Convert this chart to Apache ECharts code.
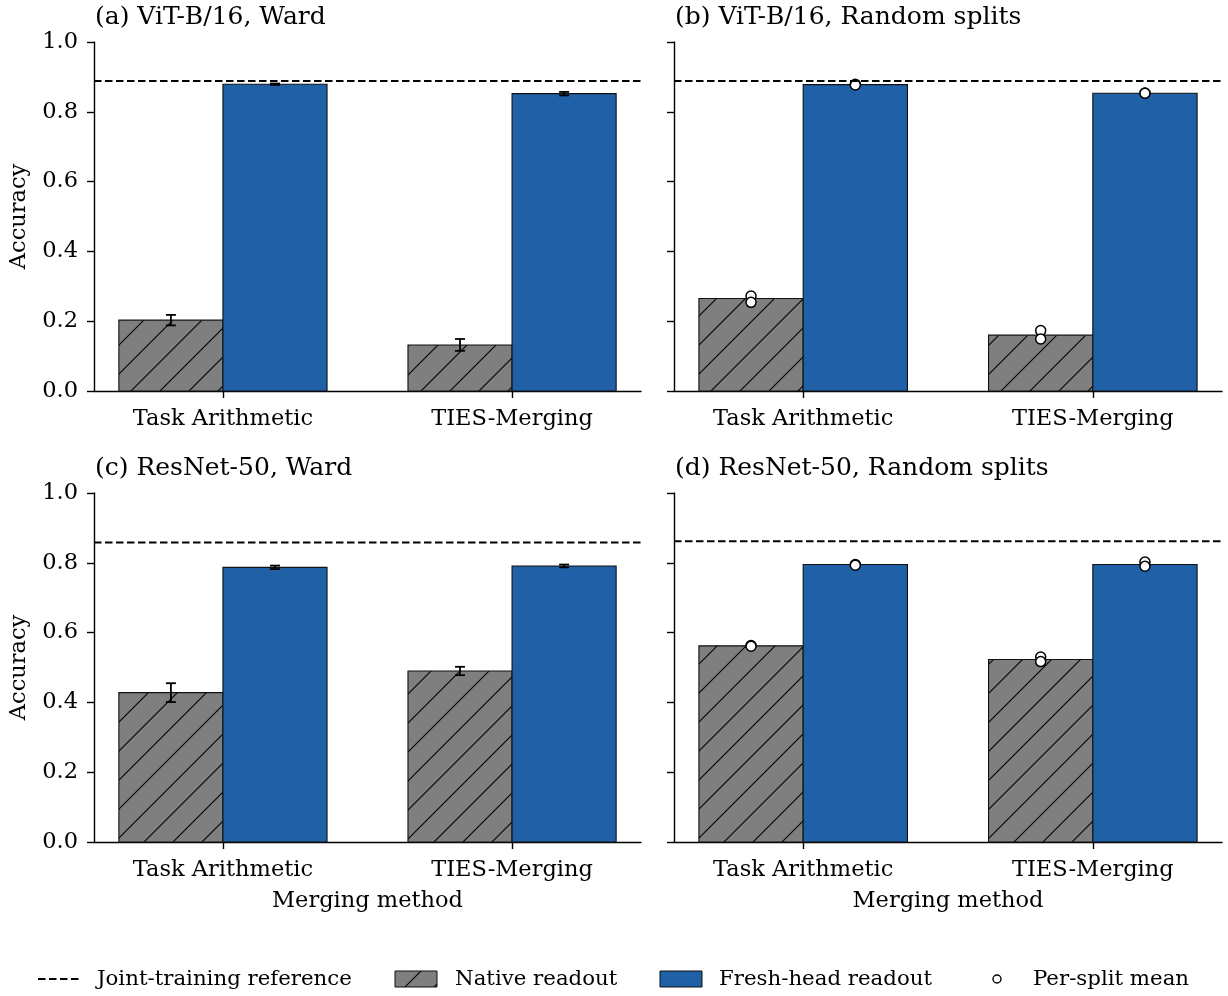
<!DOCTYPE html>
<html>
<head>
<meta charset="utf-8">
<script src="https://cdn.jsdelivr.net/npm/echarts@6/dist/echarts.min.js"></script>
<style>
  html, body { margin: 0; padding: 0; background: #fff; }
  #chart { width: 1228px; height: 996px; }
</style>
</head>
<body>
<div id="chart"></div>
<script>
// ---- data ----
var methods = ['Task Arithmetic', 'TIES-Merging'];
var panelTitles = ['(a) ViT-B/16, Ward', '(b) ViT-B/16, Random splits',
                   '(c) ResNet-50, Ward', '(d) ResNet-50, Random splits'];
var yTicks = [0.0, 0.2, 0.4, 0.6, 0.8, 1.0];

var jointRef = [0.888, 0.888, 0.858, 0.862];
var nativeMean = [[0.203, 0.132], [0.265, 0.160], [0.428, 0.490], [0.562, 0.523]];
var freshMean = [[0.879, 0.852], [0.878, 0.853], [0.787, 0.791], [0.795, 0.795]];
// error bars only on the Ward panels
var nativeErr = [[0.015, 0.017], null, [0.027, 0.012], null];
var freshErr = [[0.002, 0.005], null, [0.005, 0.004], null];
// per-split means only on the random-split panels
var nativeSplits = [null, [[0.272, 0.254], [0.173, 0.149]], null, [[0.563, 0.561], [0.530, 0.517]]];
var freshSplits = [null, [[0.879, 0.877], [0.854, 0.853]], null, [[0.795, 0.793], [0.802, 0.790]]];

var FONT = 'DejaVu Serif';
var FS = 22.5;
var BLUE = '#2060a6';
var GRAY = '#7f7f7f';
var BAR_W = 0.36;
var X_MIN = -0.446, X_MAX = 1.446;
var DASH = [7.5, 3.5];

function makeHatch() {
    var s = 29;
    var c = document.createElement('canvas');
    c.width = s; c.height = s;
    var ctx = c.getContext('2d');
    ctx.fillStyle = GRAY;
    ctx.fillRect(0, 0, s, s);
    ctx.strokeStyle = '#000';
    ctx.lineWidth = 1.1;
    ctx.beginPath();
    ctx.moveTo(0, s); ctx.lineTo(s, 0);
    ctx.moveTo(-2, 2); ctx.lineTo(2, -2);
    ctx.moveTo(s - 2, s + 2); ctx.lineTo(s + 2, s - 2);
    ctx.stroke();
    return c;
}
var hatch = makeHatch();

var chart = echarts.init(document.getElementById('chart'), null, { renderer: 'canvas' });

var grids = [
    { left: 94, top: 42, width: 547, height: 349 },
    { left: 674, top: 42, width: 548, height: 349 },
    { left: 94, top: 493, width: 547, height: 349 },
    { left: 674, top: 493, width: 548, height: 349 }
];

var xAxes = [], yAxes = [], series = [], graphics = [];

grids.forEach(function (g, p) {
    xAxes.push({
        gridIndex: p, type: 'value', min: X_MIN, max: X_MAX,
        splitLine: { show: false },
        axisLine: { show: true, onZero: false, lineStyle: { color: '#000', width: 1.4 } },
        axisTick: { show: true, customValues: [0, 1], length: 7, lineStyle: { color: '#000', width: 1.4 } },
        axisLabel: {
            show: true, customValues: [0, 1], margin: 17,
            fontFamily: FONT, fontSize: FS, color: '#000',
            formatter: function (v) { return methods[Math.round(v)]; }
        }
    });
    yAxes.push({
        gridIndex: p, type: 'value', min: 0, max: 1,
        splitLine: { show: false },
        axisLine: { show: true, onZero: false, lineStyle: { color: '#000', width: 1.4 } },
        axisTick: { show: true, customValues: yTicks, length: 7, lineStyle: { color: '#000', width: 1.4 } },
        axisLabel: {
            show: p % 2 === 0, customValues: yTicks, margin: 16,
            fontFamily: FONT, fontSize: FS, color: '#000',
            formatter: function (v) { return v.toFixed(1); }
        }
    });

    // bars
    var barData = [];
    methods.forEach(function (m, i) {
        barData.push([i - BAR_W / 2, nativeMean[p][i], 0]);
        barData.push([i + BAR_W / 2, freshMean[p][i], 1]);
    });
    series.push({
        type: 'custom', xAxisIndex: p, yAxisIndex: p, z: 2,
        data: barData,
        renderItem: function (params, api) {
            var top = api.coord([api.value(0), api.value(1)]);
            var base = api.coord([api.value(0), 0]);
            var w = api.size([BAR_W, 0])[0];
            var native = api.value(2) === 0;
            return {
                type: 'rect',
                shape: { x: top[0] - w / 2, y: top[1], width: w, height: base[1] - top[1] },
                style: {
                    fill: native ? { image: hatch, repeat: 'repeat' } : BLUE,
                    stroke: '#111', lineWidth: 1.1
                }
            };
        }
    });

    // error bars
    if (nativeErr[p]) {
        var errData = [];
        methods.forEach(function (m, i) {
            errData.push([i - BAR_W / 2, nativeMean[p][i], nativeErr[p][i]]);
            errData.push([i + BAR_W / 2, freshMean[p][i], freshErr[p][i]]);
        });
        series.push({
            type: 'custom', xAxisIndex: p, yAxisIndex: p, z: 5,
            data: errData,
            renderItem: function (params, api) {
                var x = api.value(0), v = api.value(1), e = api.value(2);
                var hi = api.coord([x, v + e]);
                var lo = api.coord([x, v - e]);
                var st = { stroke: '#000', lineWidth: 1.8 };
                return {
                    type: 'group',
                    children: [
                        { type: 'line', shape: { x1: hi[0], y1: hi[1], x2: lo[0], y2: lo[1] }, style: st },
                        { type: 'line', shape: { x1: hi[0] - 5, y1: hi[1], x2: hi[0] + 5, y2: hi[1] }, style: st },
                        { type: 'line', shape: { x1: lo[0] - 5, y1: lo[1], x2: lo[0] + 5, y2: lo[1] }, style: st }
                    ]
                };
            }
        });
    }

    // per-split means
    if (nativeSplits[p]) {
        var pts = [];
        methods.forEach(function (m, i) {
            nativeSplits[p][i].forEach(function (v) { pts.push([i - BAR_W / 2, v]); });
            freshSplits[p][i].forEach(function (v) { pts.push([i + BAR_W / 2, v]); });
        });
        series.push({
            type: 'scatter', xAxisIndex: p, yAxisIndex: p, z: 6,
            symbol: 'circle', symbolSize: 10,
            itemStyle: { color: '#fff', borderColor: '#000', borderWidth: 1.5, opacity: 1 },
            data: pts
        });
    }

    // joint-training reference
    series.push({
        type: 'line', xAxisIndex: p, yAxisIndex: p, z: 7,
        showSymbol: false, symbol: 'none',
        lineStyle: { color: '#000', width: 2, type: DASH },
        data: [[X_MIN, jointRef[p]], [X_MAX, jointRef[p]]]
    });

    // panel title
    graphics.push({
        type: 'text', left: g.left + 1, top: g.top - 37,
        style: { text: panelTitles[p], fontFamily: FONT, fontSize: 25, fill: '#000' }
    });
    if (p % 2 === 0) {
        graphics.push({
            type: 'text', x: 19, y: g.top + g.height / 2, rotation: Math.PI / 2,
            style: { text: 'Accuracy', fontFamily: FONT, fontSize: FS, fill: '#000',
                     align: 'center', verticalAlign: 'middle' }
        });
    }
    if (p >= 2) {
        graphics.push({
            type: 'text', x: g.left + g.width / 2, y: 901,
            style: { text: 'Merging method', fontFamily: FONT, fontSize: FS, fill: '#000',
                     align: 'center', verticalAlign: 'middle' }
        });
    }
});

// legend
var LY = 979;
var LFS = 21.3;
graphics.push(
    { type: 'line', shape: { x1: 38, y1: LY, x2: 80, y2: LY },
      style: { stroke: '#000', lineWidth: 2, lineDash: DASH } },
    { type: 'text', x: 97, y: LY, style: { text: 'Joint-training reference', fontFamily: FONT, fontSize: LFS, fill: '#000', verticalAlign: 'middle' } },
    { type: 'rect', shape: { x: 395, y: LY - 8, width: 42, height: 16 },
      style: { fill: { image: hatch, repeat: 'repeat' }, stroke: '#111', lineWidth: 1 } },
    { type: 'text', x: 455, y: LY, style: { text: 'Native readout', fontFamily: FONT, fontSize: LFS, fill: '#000', verticalAlign: 'middle' } },
    { type: 'rect', shape: { x: 660, y: LY - 8, width: 42, height: 16 },
      style: { fill: BLUE, stroke: '#111', lineWidth: 1 } },
    { type: 'text', x: 719, y: LY, style: { text: 'Fresh-head readout', fontFamily: FONT, fontSize: LFS, fill: '#000', verticalAlign: 'middle' } },
    { type: 'circle', shape: { cx: 997, cy: LY, r: 4 },
      style: { fill: '#fff', stroke: '#000', lineWidth: 1.4 } },
    { type: 'text', x: 1033, y: LY, style: { text: 'Per-split mean', fontFamily: FONT, fontSize: LFS, fill: '#000', verticalAlign: 'middle' } }
);

chart.setOption({
    animation: false,
    backgroundColor: '#fff',
    grid: grids,
    xAxis: xAxes,
    yAxis: yAxes,
    series: series,
    graphic: graphics
});
</script>
</body>
</html>
